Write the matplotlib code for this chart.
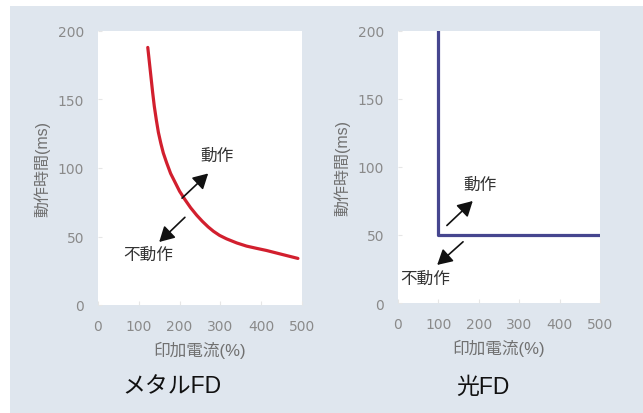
import matplotlib.pyplot as plt
from matplotlib.patches import Rectangle

plt.rcParams['font.family'] = ['Liberation Sans', 'Noto Sans CJK JP', 'DejaVu Sans']

# metal FD curve (current %, operating time ms)
metal_x = [122, 126, 130, 134, 138, 143, 148, 154, 160, 168, 178, 189, 200, 213, 227, 242, 256, 270, 283, 298, 315, 340, 364, 388, 413, 450, 490]
metal_y = [188, 177, 166, 155, 145, 135, 126, 118, 111, 104, 96, 89.5, 83, 77, 71, 65.5, 61, 57, 53.8, 50.8, 48.3, 45.3, 43, 41.4, 39.8, 37, 34]

# optical FD step line
opt_x = [100, 100, 500]
opt_y = [200, 50, 50]

xticks = [0, 100, 200, 300, 400, 500]
yticks = [0, 50, 100, 150, 200]
titles = ['メタルFD', '光FD']

bg = '#dfe6ee'
fig = plt.figure(figsize=(6.43, 4.14), dpi=100, facecolor='white')
fig.patches.append(Rectangle((10 / 643, 0), 633 / 643, 407 / 414, transform=fig.transFigure,
                             facecolor=bg, edgecolor='none', zorder=-10))

ax1 = fig.add_axes([98 / 643, 1 - 306 / 414, 204 / 643, 274 / 414])
ax2 = fig.add_axes([398 / 643, 1 - 304 / 414, 202 / 643, 272 / 414])

for ax in (ax1, ax2):
    ax.set_facecolor('white')
    ax.set_xlim(0, 500)
    ax.set_ylim(0, 200)
    ax.set_xticks(xticks)
    ax.set_yticks(yticks)
    ax.set_xticklabels([str(t) for t in xticks], family='DejaVu Sans')
    ax.set_yticklabels([str(t) for t in yticks], family='DejaVu Sans')
    for s in ax.spines.values():
        s.set_visible(False)
    ax.tick_params(axis='both', direction='in', length=3, color='#e6e6e6',
                   labelcolor='#8a8a8a', labelsize=10, pad=10)
    ax.set_xlabel('印加電流(%)', fontsize=12, color='#707070', labelpad=6)
    ax.set_ylabel('動作時間(ms)', fontsize=11.5, color='#707070', labelpad=5)

# left: metal FD
ax1.plot(metal_x, metal_y, color='#d21f2e', lw=2.3, solid_capstyle='round', solid_joinstyle='round')
arrow = dict(arrowstyle='-|>,head_length=0.9,head_width=0.5', color='#111111', lw=1.2,
             shrinkA=0, shrinkB=0)
ax1.annotate('', xy=(270, 96), xytext=(206, 78), arrowprops=arrow)
ax1.annotate('', xy=(150, 46), xytext=(213, 64), arrowprops=arrow)
ax1.text(292, 109, '動作', fontsize=12, color='#333333', ha='center', va='center')
ax1.text(123, 37, '不動作', fontsize=12, color='#333333', ha='center', va='center')

# right: optical FD
ax2.plot(opt_x, opt_y, color='#46468f', lw=2.3)
ax2.annotate('', xy=(185, 75), xytext=(121, 57), arrowprops=arrow)
ax2.annotate('', xy=(97, 28), xytext=(161, 45), arrowprops=arrow)
ax2.text(203, 87, '動作', fontsize=12, color='#333333', ha='center', va='center')
ax2.text(67, 18, '不動作', fontsize=12, color='#333333', ha='center', va='center')

fig.text(172 / 643, 1 - 387 / 414, titles[0], fontsize=16.5, ha='center', va='center', color='#111111')
fig.text(483 / 643, 1 - 387 / 414, titles[1], fontsize=16.5, ha='center', va='center', color='#111111')

fig.savefig('out.png', dpi=100, facecolor='white')
